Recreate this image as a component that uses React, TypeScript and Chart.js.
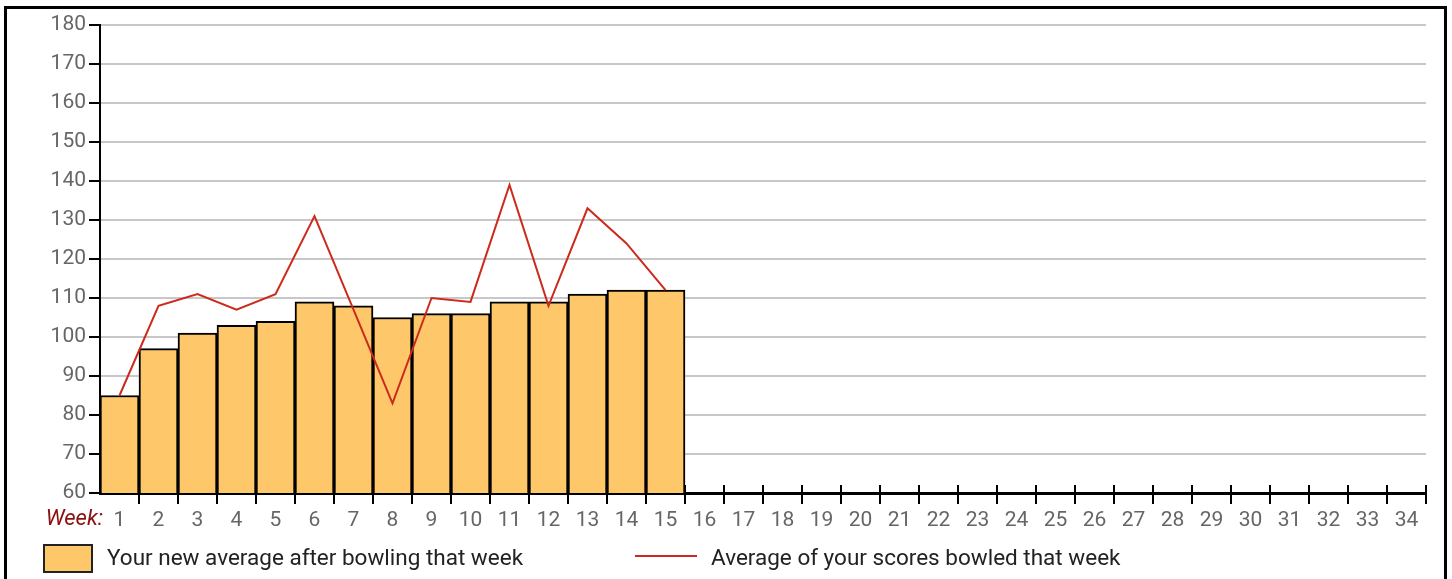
import React, { useEffect, useRef } from "react";
import { Chart, registerables } from "chart.js";

Chart.register(...registerables);

const weeks = ["1", "2", "3", "4", "5", "6", "7", "8", "9", "10", "11", "12", "13", "14", "15", "16", "17", "18", "19", "20", "21", "22", "23", "24", "25", "26", "27", "28", "29", "30", "31", "32", "33", "34"];
const newAverage = [85, 97, 101, 103, 104, 109, 108, 105, 106, 106, 109, 109, 111, 112, 112];
const weekAverage = [85, 108, 111, 107, 111, 131, 107, 83, 110, 109, 139, 108, 133, 124, 112];
const yMin = 60;
const yMax = 180;
const yStep = 10;

const BAR_FILL = "#FEC86A";
const LINE_RED = "#CC2A1C";
const FONT = "Roboto";

const axisDecor = {
  id: "axisDecor",
  beforeDatasetsDraw(chart: any) {
    const xs = chart.scales.x;
    const ctx = chart.ctx;
    const y0 = xs.top;
    ctx.save();
    ctx.strokeStyle = "#000";
    ctx.lineWidth = 2;
    for (let i = 1; i <= weeks.length; i++) {
      const px = Math.round(xs.getPixelForValue(i - 0.5));
      ctx.beginPath();
      ctx.moveTo(px, y0 - 8);
      ctx.lineTo(px, y0 + 11);
      ctx.stroke();
    }
    ctx.restore();
  },
  afterDraw(chart: any) {
    const xs = chart.scales.x;
    const ctx = chart.ctx;
    ctx.save();
    ctx.font = `italic 22px ${FONT}`;
    ctx.fillStyle = "#8B1010";
    ctx.textAlign = "right";
    ctx.textBaseline = "middle";
    ctx.fillText("Week:", xs.left + 3, xs.top + 26);
    ctx.restore();
  },
};

export default function App() {
  const ref = useRef<HTMLCanvasElement | null>(null);

  useEffect(() => {
    if (!ref.current) return;
    Chart.defaults.font.family = FONT;
    const chart = new Chart(ref.current, {
      type: "bar",
      data: {
        labels: weeks,
        datasets: [
          {
            type: "line",
            label: "Average of your scores bowled that week",
            data: weekAverage,
            borderColor: LINE_RED,
            borderWidth: 2,
            pointRadius: 0,
            tension: 0,
            fill: false,
            order: 0,
          } as any,
          {
            type: "bar",
            label: "Your new average after bowling that week",
            data: newAverage,
            backgroundColor: BAR_FILL,
            borderColor: "#000",
            borderWidth: 2,
            barPercentage: 1,
            categoryPercentage: 1,
            order: 1,
          },
        ],
      },
      options: {
        responsive: false,
        animation: false,
        layout: { padding: { left: 0, top: 25, right: 26, bottom: 7 } },
        plugins: {
          legend: { display: false },
          tooltip: { enabled: false },
        },
        scales: {
          x: {
            grid: { display: false },
            border: { display: true, color: "#000", width: 3 },
            ticks: {
              color: "#666",
              font: { size: 21, family: FONT },
              padding: 7,
              maxRotation: 0,
              autoSkip: false,
            },
            afterFit(scale: any) {
              scale.height = 40;
            },
          },
          y: {
            min: yMin,
            max: yMax,
            grid: {
              color: "#c8c8c8",
              lineWidth: 2,
              tickColor: "#000",
              tickLength: 11,
              tickWidth: 2,
            },
            border: { display: true, color: "#000", width: 2 },
            ticks: {
              stepSize: yStep,
              color: "#666",
              font: { size: 21, family: FONT },
              padding: 3,
            },
            afterFit(scale: any) {
              scale.width = 100;
            },
          },
        },
      },
      plugins: [axisDecor],
    });
    return () => chart.destroy();
  }, []);

  return (
    <div>
      <canvas
        ref={ref}
        width={1452}
        height={540}
        style={{ position: "absolute", left: 0, top: 0, width: 1452, height: 540 }}
      />
      <div
        style={{
          position: "absolute",
          left: 4,
          top: 6,
          width: 1443,
          height: 573,
          boxSizing: "border-box",
          border: "3px solid #000",
          borderBottom: "none",
          pointerEvents: "none",
        }}
      />
      <div
        style={{
          position: "absolute",
          left: 43,
          top: 544,
          width: 50,
          height: 29,
          boxSizing: "border-box",
          background: BAR_FILL,
          border: "2px solid #222",
        }}
      />
      <div
        style={{
          position: "absolute",
          left: 107,
          top: 543,
          height: 28,
          lineHeight: "28px",
          fontFamily: FONT,
          fontSize: 22.5,
          color: "#222",
          whiteSpace: "nowrap",
        }}
      >
        Your new average after bowling that week
      </div>
      <div
        style={{
          position: "absolute",
          left: 635,
          top: 555,
          width: 62,
          height: 2,
          background: LINE_RED,
        }}
      />
      <div
        style={{
          position: "absolute",
          left: 711,
          top: 543,
          height: 28,
          lineHeight: "28px",
          fontFamily: FONT,
          fontSize: 22.5,
          color: "#222",
          whiteSpace: "nowrap",
        }}
      >
        Average of your scores bowled that week
      </div>
    </div>
  );
}
